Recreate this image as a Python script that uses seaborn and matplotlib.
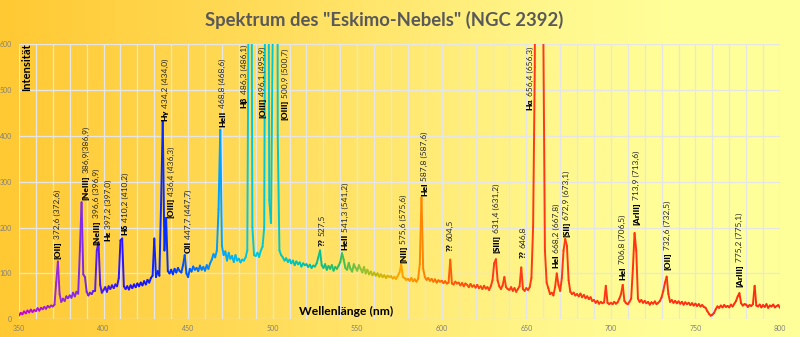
import numpy as np
import pandas as pd
import matplotlib
matplotlib.use("Agg")
import matplotlib.pyplot as plt
from matplotlib.colors import to_rgb
import seaborn as sns

# ---- spectrum (1 nm steps, 350..800 nm) ----
wavelength = np.arange(350, 801, 1)
intensity = [
    8, 14, 11, 17, 13, 19, 15, 21, 16, 20,            # 350
    18, 24, 19, 25, 22, 27, 23, 29, 26, 30,           # 360
    28, 32, 80, 126, 55, 38, 45, 40, 50, 46,          # 370
    52, 47, 58, 50, 60, 56, 150, 255, 98, 92,         # 380
    60, 52, 58, 55, 62, 62, 150, 168, 75, 58,         # 390
    64, 70, 60, 72, 66, 74, 68, 76, 72, 90,           # 400
    172, 176, 72, 66, 72, 65, 74, 68, 76, 70,         # 410
    78, 72, 80, 74, 83, 76, 86, 80, 90, 95,           # 420
    176, 92, 105, 95, 250, 432, 150, 221, 105, 100,   # 430
    108, 98, 110, 102, 112, 105, 102, 118, 140, 100,  # 440
    92, 110, 104, 115, 108, 112, 105, 117, 108, 114,  # 450
    106, 118, 110, 122, 130, 142, 135, 150, 240, 413, # 460
    160, 140, 148, 128, 145, 132, 138, 125, 140, 128, # 470
    132, 124, 130, 128, 135, 150, 900, 1400, 200, 140,  # 480
    138, 145, 136, 150, 158, 200, 1200, 1500, 260, 210, # 490
    600, 3500, 3000, 400, 150, 140, 135, 128, 133, 125, # 500
    130, 122, 128, 118, 126, 120, 124, 115, 122, 118, # 510
    120, 114, 119, 112, 117, 115, 122, 135, 150, 118, # 520
    112, 120, 108, 116, 110, 118, 106, 114, 110, 117, # 530
    125, 144, 130, 112, 108, 123, 110, 104, 120, 112, # 540
    106, 118, 110, 102, 114, 100, 108, 98, 104, 96,   # 550
    102, 95, 100, 93, 98, 92, 96, 90, 95, 92,         # 560
    94, 89, 92, 88, 95, 102, 119, 92, 90, 86,         # 570
    88, 84, 90, 83, 87, 82, 88, 120, 266, 110,        # 580
    92, 86, 90, 84, 88, 82, 87, 80, 85, 82,           # 590
    84, 79, 83, 78, 80, 130, 78, 76, 82, 78,          # 600
    80, 74, 79, 72, 78, 75, 70, 77, 71, 74,           # 610
    69, 75, 68, 72, 66, 73, 67, 70, 64, 72,           # 620
    85, 122, 131, 85, 72, 66, 74, 92, 70, 66,         # 630
    64, 70, 62, 68, 60, 66, 72, 113, 66, 62,          # 640
    68, 64, 70, 90, 200, 550, 2000, 3000, 2400, 1500, # 650
    650, 150, 80, 68, 55, 58, 52, 70, 100, 75,        # 660
    62, 90, 150, 175, 160, 85, 60, 55, 58, 52,        # 670
    55, 50, 56, 48, 53, 46, 50, 44, 48, 40,           # 680
    42, 36, 40, 34, 38, 35, 37, 73, 36, 33,           # 690
    36, 33, 38, 34, 37, 45, 55, 75, 40, 35,           # 700
    33, 38, 45, 110, 188, 150, 45, 38, 42, 36,        # 710
    40, 35, 38, 32, 37, 34, 39, 33, 36, 40,           # 720
    48, 62, 80, 93, 55, 38, 42, 36, 40, 35,           # 730
    39, 34, 38, 32, 37, 33, 36, 31, 35, 30,           # 740
    34, 29, 33, 28, 31, 27, 25, 18, 12, 8,            # 750
    10, 14, 22, 28, 25, 30, 26, 31, 27, 29,           # 760
    26, 32, 28, 34, 40, 50, 57, 35, 30, 33,           # 770
    32, 27, 31, 29, 33, 73, 30, 28, 32, 26,           # 780
    31, 27, 33, 25, 30, 28, 32, 26, 29, 31,           # 790
    25,                                               # 800
]

# ---- line identifications ----
line_names = ["[OII]", "[NeIII]", "[NeIII]", "Hε", "Hδ", "Hγ", "[OIII]", "OII",
              "HeII", "Hβ", "[OIII]", "[OIII]", "??", "HeII", "[NII]", "HeI",
              "??", "[SIII]", "??", "Hα", "HeI", "[SII]", "HeI", "[ArIII]",
              "[OII]", "[ArIII]"]
line_values = ["372,6 (372,6)", "386,9(386,9)", "396,6 (396,9)", "397,2 (397,0)",
               "410,2 (410,2)", "434,2 (434,0)", "436,4 (436,3)", "447,7 (447,7)",
               "468,8 (468,6)", "486,3 (486,1)", "496,1 (495,9)", "500,9 (500,7)",
               "527,5", "541,3 (541,2)", "575,6 (575,6)", "587,8 (587,6)",
               "604,5", "631,4 (631,2)", "646,8", "656,4 (656,3)",
               "668,2 (667,8)", "672,9 (673,1)", "706,8 (706,5)", "713,9 (713,6)",
               "732,6 (732,5)", "775,2 (775,1)"]
# label anchor (x in nm, y = bottom of the text in intensity units)
label_x = [372.7, 389.6, 395.8, 402.6, 412.7, 436.3, 439.9, 450.0,
           470.3, 483.0, 494.0, 507.3, 529.2, 542.8, 577.4, 589.8,
           604.9, 632.4, 648.0, 652.2, 667.6, 673.8, 706.9, 715.2,
           733.5, 776.0]
label_y = [131, 260, 162, 170, 184, 432, 220, 144, 420, 461, 439, 434, 159,
           151, 122, 268, 148, 144, 133, 457, 111, 179, 86, 206, 108, 71]

# ---- colour of the trace along the spectrum ----
color_wl = [350, 372, 388, 398, 420, 440, 455, 470, 486, 505, 525, 540, 552,
            563, 575, 590, 605, 630, 800]
color_hex = ["#C800D2", "#9A2AD6", "#7F2AE8", "#4A1AF5", "#1A10FF", "#0033FF",
             "#0070FF", "#00A5FF", "#00C8E6", "#00C8C8", "#00BFA0", "#2DBF5A",
             "#8CC23C", "#C8B800", "#FFA500", "#FF8000", "#FF5A0A", "#FF3C14",
             "#FF2A14"]

sns.set_style("white")
plt.rcParams["font.family"] = ["Lato", "DejaVu Sans"]

fig = plt.figure(figsize=(8.0, 3.37), dpi=100)

# background gradient
bg = fig.add_axes([0, 0, 1, 1], zorder=0)
stops = [0.0, 0.25, 0.5, 0.7, 0.85, 1.0]
stop_cols = np.array([(255, 201, 51), (255, 215, 80), (255, 232, 112),
                      (255, 248, 142), (255, 255, 153), (255, 255, 153)]) / 255.0
xs = np.linspace(0, 1, 400)
grad = np.stack([np.interp(xs, stops, stop_cols[:, k]) for k in range(3)], axis=-1)
bg.imshow(grad[np.newaxis, :, :], aspect="auto", extent=[0, 1, 0, 1])
bg.axis("off")

ax = fig.add_axes([19 / 800, 1 - 319.3 / 337, 761 / 800, 275.3 / 337], zorder=1)
ax.set_facecolor("none")

# segment-wise colouring through seaborn hue
rgb_stops = np.array([to_rgb(c) for c in color_hex])
rows = []
palette = {}
for i in range(len(wavelength) - 1):
    rows.append((wavelength[i], intensity[i], i))
    rows.append((wavelength[i + 1], intensity[i + 1], i))
    mid = 0.5 * (wavelength[i] + wavelength[i + 1])
    palette[i] = tuple(np.interp(mid, color_wl, rgb_stops[:, k]) for k in range(3))
df = pd.DataFrame(rows, columns=["wl", "val", "seg"])
sns.lineplot(data=df, x="wl", y="val", hue="seg", palette=palette, legend=False,
             estimator=None, sort=False, linewidth=1.4, ax=ax)

ax.set_xlim(350, 800)
ax.set_ylim(0, 600)
ax.set_xticks(range(350, 801, 50))
ax.set_xticks(range(350, 801, 10), minor=True)
ax.set_yticks(range(0, 601, 100))
ax.grid(True, which="both", axis="x", color="#E6E6E6", lw=0.9, zorder=0)
ax.grid(True, which="major", axis="y", color="#E6E6E6", lw=0.9, zorder=0)
ax.set_axisbelow(True)
for s in ax.spines.values():
    s.set_visible(False)
ax.tick_params(axis="both", which="both", length=0, labelsize=5,
               labelcolor="#7F7F7F")
ax.tick_params(axis="x", pad=4)
ax.tick_params(axis="y", pad=5)
ax.set_xlabel("")
ax.set_ylabel("")

# axis titles inside the plotting area
ax.text(354.4, 601, "Intensität", rotation=90, ha="center", va="top",
        fontsize=8, fontweight="bold", color="black")
ax.text(543.4, 17, "Wellenlänge (nm)", ha="center", va="center",
        fontsize=8.7, fontweight="bold", color="black")

# line labels: bold ion name followed by the wavelength
for name, val, lx, ly in zip(line_names, line_values, label_x, label_y):
    t = ax.text(lx, ly, name, rotation=90, ha="center", va="bottom",
                fontsize=6, fontweight="heavy", color="black")
    ax.annotate(val, xy=(0.5, 1.0), xycoords=t, xytext=(0, 1.5),
                textcoords="offset points", rotation=90, ha="center",
                va="bottom", fontsize=6, color="#262626")

fig.text(384 / 800, 1 - 20 / 337, 'Spektrum des "Eskimo-Nebels" (NGC 2392)',
         ha="center", va="center", fontsize=13.3, fontweight="bold",
         color="#595959")

fig.savefig("out.png", dpi=100)
